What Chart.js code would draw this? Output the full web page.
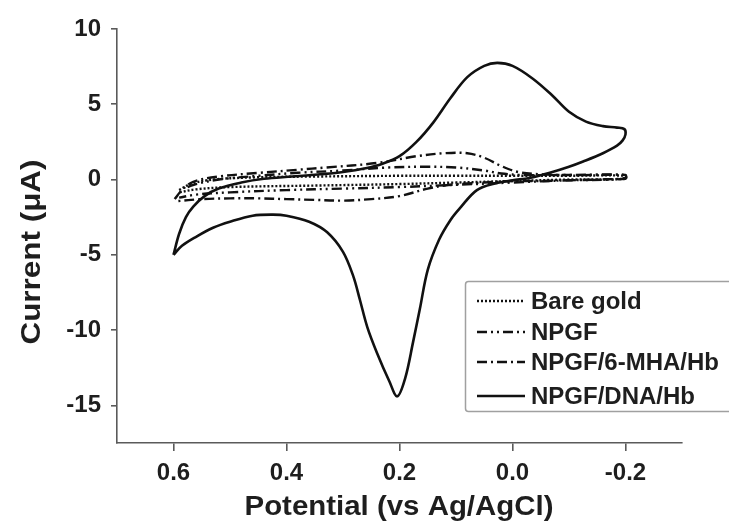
<!DOCTYPE html>
<html>
<head>
<meta charset="utf-8">
<script src="https://cdn.jsdelivr.net/npm/chart.js@4.4.1/dist/chart.umd.min.js"></script>
<style>
  html, body { margin: 0; padding: 0; background: #fff; }
  #wrap { width: 729px; height: 522px; position: relative; }
</style>
</head>
<body>
<div id="wrap"><canvas id="cvChart"></canvas></div>
<script>
// series names (legend order)
const seriesNames = ["Bare gold", "NPGF", "NPGF/6-MHA/Hb", "NPGF/DNA/Hb"];

// axis ticks
const xTicks = [0.6, 0.4, 0.2, 0.0, -0.2];
const yTicks = [-15, -10, -5, 0, 5, 10];

// Bare gold : potential (V) / current (uA), loop
const bareE = [0.59, 0.57, 0.53, 0.45, 0.35, 0.2, 0.1, 0.0, -0.1, -0.2, -0.2, -0.1, 0.0, 0.1, 0.2, 0.35, 0.5, 0.56, 0.59];
const bareI = [-0.7, -0.3, 0.0, 0.15, 0.2, 0.25, 0.25, 0.25, 0.25, 0.25, 0.05, 0.0, -0.1, -0.2, -0.3, -0.4, -0.5, -0.65, -0.85];

// NPGF
const npgfE = [0.575, 0.56, 0.52, 0.45, 0.38, 0.3, 0.22, 0.15, 0.1, 0.05, 0.02, -0.02, -0.1, -0.2, -0.2, -0.1, 0.0, 0.1, 0.2, 0.3, 0.4, 0.5, 0.56, 0.59];
const npgfI = [-0.5, -0.3, 0.0, 0.25, 0.45, 0.6, 0.8, 0.85, 0.8, 0.6, 0.4, 0.3, 0.3, 0.3, 0.05, -0.05, -0.2, -0.35, -0.5, -0.6, -0.7, -0.85, -1.0, -1.2];

// NPGF/6-MHA/Hb
const mhaE = [0.598, 0.585, 0.565, 0.52, 0.447, 0.38, 0.33, 0.24, 0.17, 0.12, 0.08, 0.05, 0.02, -0.01, -0.05, -0.1, -0.15, -0.2, -0.2, -0.15, -0.1, -0.05, 0.0, 0.05, 0.11, 0.15, 0.2, 0.25, 0.3, 0.35, 0.4, 0.45, 0.5, 0.55, 0.598];
const mhaI = [-1.3, -0.7, -0.15, 0.2, 0.45, 0.65, 0.8, 1.1, 1.55, 1.75, 1.75, 1.45, 0.9, 0.5, 0.35, 0.3, 0.3, 0.3, 0.1, 0.0, -0.05, -0.1, -0.1, -0.2, -0.35, -0.6, -1.1, -1.3, -1.4, -1.35, -1.3, -1.25, -1.25, -1.3, -1.45];

// NPGF/DNA/Hb
const dnaE = [0.6, 0.59, 0.578, 0.565, 0.545, 0.52, 0.48, 0.44, 0.39, 0.34, 0.3, 0.26, 0.23, 0.2, 0.17, 0.14, 0.11, 0.08, 0.05, 0.027, 0.0, -0.036, -0.07, -0.1, -0.13, -0.16, -0.185, -0.198, -0.2,
  -0.195, -0.185, -0.16, -0.125, -0.1, -0.066, -0.03, 0.0, 0.03, 0.063, 0.093, 0.11, 0.13, 0.15, 0.164, 0.176, 0.19, 0.204, 0.218, 0.24, 0.257, 0.27, 0.282, 0.3, 0.328, 0.36, 0.4, 0.424, 0.46, 0.5, 0.53, 0.56, 0.585, 0.6];
const dnaI = [-5.0, -3.6, -2.5, -1.8, -1.1, -0.6, -0.2, 0.05, 0.2, 0.35, 0.5, 0.75, 1.05, 1.55, 2.5, 3.8, 5.4, 6.8, 7.55, 7.75, 7.55, 6.7, 5.6, 4.5, 3.85, 3.55, 3.45, 3.35, 3.0,
  2.6, 2.25, 1.75, 1.2, 0.85, 0.45, 0.1, -0.05, -0.25, -0.7, -1.9, -2.7, -4.0, -6.0, -8.6, -10.8, -13.2, -14.4, -13.4, -11.5, -9.8, -8.0, -6.4, -4.8, -3.5, -2.8, -2.4, -2.33, -2.4, -2.8, -3.2, -3.8, -4.4, -5.0];

const seriesE = [bareE, npgfE, mhaE, dnaE];
const seriesI = [bareI, npgfI, mhaI, dnaI];
const dashes = [[2, 2], [10, 4, 2, 4, 2, 4], [10, 4, 2, 4], []];

const fontFam = "'Liberation Sans', Arial, sans-serif";
const textCol = "#1e1e1e";
const axisCol = "#5a5a5a";

const overlayPlugin = {
  id: "overlay",
  afterDraw(chart) {
    const ctx = chart.ctx;
    ctx.save();
    ctx.fillStyle = textCol;
    ctx.textBaseline = "middle";

    // x title
    ctx.font = "bold 27px " + fontFam;
    ctx.textAlign = "center";
    let w = ctx.measureText("Potential (vs Ag/AgCl)").width;
    ctx.save();
    ctx.translate(399, 508);
    ctx.scale(309 / w, 1);
    ctx.fillText("Potential (vs Ag/AgCl)", 0, 0);
    ctx.restore();

    // y title
    w = ctx.measureText("Current (\u03bcA)").width;
    ctx.save();
    ctx.translate(33, 252);
    ctx.rotate(-Math.PI / 2);
    ctx.scale(185 / w, 1);
    ctx.fillText("Current (\u03bcA)", 0, 0);
    ctx.restore();

    // legend box
    ctx.strokeStyle = "#a0a0a0";
    ctx.lineWidth = 1.5;
    ctx.beginPath();
    ctx.roundRect(465.5, 281.5, 280, 130, 3);
    ctx.stroke();

    const rowY = [301, 332, 362, 396];
    ctx.font = "bold 24px " + fontFam;
    ctx.textAlign = "left";
    seriesNames.forEach((name, i) => {
      ctx.strokeStyle = "#111";
      ctx.lineWidth = 2.5;
      ctx.setLineDash(dashes[i]);
      ctx.beginPath();
      ctx.moveTo(477, rowY[i]);
      ctx.lineTo(525, rowY[i]);
      ctx.stroke();
      ctx.setLineDash([]);
      ctx.fillText(name, 531, rowY[i] + 1);
    });
    ctx.restore();
  }
};

const cvChart = new Chart(document.getElementById("cvChart"), {
  type: "scatter",
  data: {
    datasets: seriesNames.map((name, i) => ({
      label: name,
      data: seriesE[i].map((e, k) => ({ x: e, y: seriesI[i][k] })),
      showLine: true,
      borderColor: "#111",
      borderWidth: i === 3 ? 2.6 : 2.4,
      borderDash: dashes[i],
      pointRadius: 0,
      tension: 0.35,
      fill: false,
    })),
  },
  options: {
    responsive: true,
    maintainAspectRatio: false,
    animation: false,
    layout: { padding: { top: 29, right: 47, left: 0, bottom: 0 } },
    plugins: {
      legend: { display: false },
      tooltip: { enabled: false },
    },
    scales: {
      x: {
        type: "linear",
        reverse: true,
        min: -0.3,
        max: 0.7,
        afterFit: (scale) => { scale.height = 79; },
        afterBuildTicks: (scale) => { scale.ticks = xTicks.map((v) => ({ value: v })); },
        border: { display: true, color: axisCol, width: 1.6 },
        grid: { drawOnChartArea: false, drawTicks: true, tickLength: 8, color: axisCol, lineWidth: 1.6 },
        ticks: {
          padding: 8,
          color: textCol,
          font: { family: fontFam, size: 24, weight: "bold" },
          callback: (v) => Number(v).toFixed(1),
        },
      },
      y: {
        min: -17.5,
        max: 10,
        afterFit: (scale) => { scale.width = 117; },
        afterBuildTicks: (scale) => { scale.ticks = yTicks.map((v) => ({ value: v })); },
        border: { display: true, color: axisCol, width: 1.6 },
        grid: { drawOnChartArea: false, drawTicks: true, tickLength: 6, color: axisCol, lineWidth: 1.6 },
        ticks: {
          padding: 10,
          color: textCol,
          font: { family: fontFam, size: 24, weight: "bold" },
          callback: (v) => String(v),
        },
      },
    },
  },
  plugins: [overlayPlugin],
});
</script>
</body>
</html>
